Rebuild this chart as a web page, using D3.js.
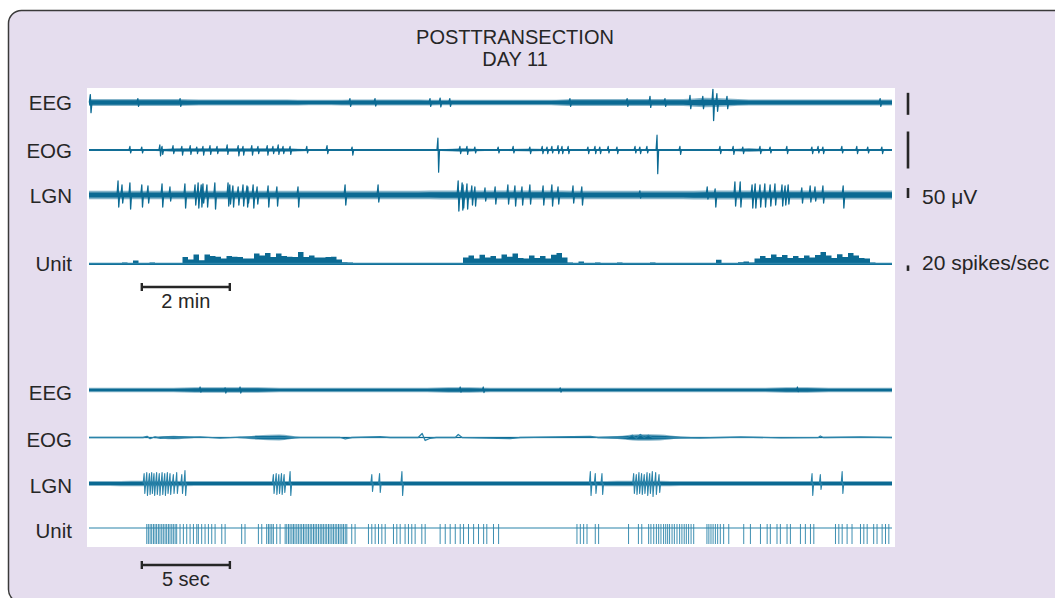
<!DOCTYPE html>
<html>
<head>
<meta charset="utf-8">
<script src="https://cdn.jsdelivr.net/npm/d3@7"></script>
<style>
  body { margin: 0; background: #fff; }
  svg { display: block; font-family: "Liberation Sans", Arial, sans-serif; }
</style>
</head>
<body>
<svg id="chart" width="1055" height="598"></svg>
<script>
// ---------- record lengths ----------
const topMinutes = 18.25;   // upper panel, slow sweep
const botSeconds = 45.6;    // lower panel, fast sweep
const bandStepTop = 0.5;    // min per envelope bin
const bandStepBot = 1.2;    // sec per envelope bin
const rateStep = 0.125;     // min per firing-rate bin

// channel gains, px per unit (taken from the calibration bars)
const gainEEG = 0.44, gainEOG = 0.74, gainLGN = 0.2, gainUnit = 0.275;

// ---------- upper panel data ----------
// noise envelope, half-width in µV, one value per 0.5 min
const eegTopBand = [8,8,8,8,8,7,7,7,7,7,6,6,7,7,7,7,6,6,6,6,6,6,8,8,8,8,8,8,11,9,7,7,7,7,7,7,7];
const eogTopBand = [1.4,1.4,1.4,1.4,2.5,2.5,2.5,2.5,2.5,2.5,1.4,1.4,1.4,1.4,1.4,1.4,1.4,2.5,1.4,1.4,2,1.4,1.4,1.4,1.4,1.4,1.4,1.4,1.4,1.4,2.5,1.4,1.4,1.4,1.4,1.4,1.4];
const lgnTopBand = [21,21,21,21,21,21,21,21,21,21,21,21,21,21,21,21,22,22,22,22,22,22,21,21,21,21,21,21,23,23,23,23,23,23,23,23,23];

// transients: [time (min), up µV, down µV]
const eegTopEvents = [[0.03,18,23],[1.11,9,9],[2.07,9,9],[5.93,9,9],[6.5,9,8],[7.75,9,9],[7.98,10,10],[8.2,9,9],
  [10.93,9,9],[12.23,9,9],[12.75,14,11],[13.09,9,9],[13.66,16,14],[13.95,14,14],[14.18,30,41],[14.27,20,20],[14.5,14,14],[17.98,9,9]];
const eogTopEvents = [[0.93,5,4],[1.2,4,4],[1.61,7,8],[1.66,5,6],[1.91,6,5],[2.11,5,7],[2.30,6,6],[2.45,4,5],[2.59,5,7],
  [2.75,6,6],[2.91,5,5],[3.14,7,6],[3.39,6,8],[3.50,5,7],[3.70,6,7],[3.84,5,5],[4.05,6,7],[4.18,5,5],[4.30,7,6],
  [4.41,5,5],[4.57,5,6],[4.95,5,4],[5.41,6,5],[5.98,4,7],[7.93,16,30],[8.43,5,5],[8.59,5,6],[8.77,4,4],[9.30,4,4],
  [9.64,5,4],[10.02,4,5],[10.30,5,5],[10.41,4,5],[10.52,5,4],[10.66,6,5],[10.75,5,5],[10.89,5,5],[11.34,4,5],
  [11.50,5,5],[11.61,4,5],[11.80,5,4],[12.0,4,5],[12.41,5,4],[12.52,4,5],[12.68,5,4],[12.91,20,32],[13.43,5,6],
  [14.34,5,5],[14.64,5,6],[14.86,4,5],[15.25,5,5],[15.48,4,4],[15.86,5,5],[16.43,4,5],[16.57,5,4],[16.68,4,5],
  [17.11,5,4],[17.45,5,5],[17.70,4,4],[18.02,4,5]];
const lgnTopEvents = [[0.66,70,60],[0.75,50,40],[0.93,60,70],[1.20,50,60],[1.34,45,40],[1.66,55,60],[1.84,40,30],
  [2.18,55,65],[2.41,50,50],[2.48,60,65],[2.55,50,60],[2.59,55,40],[2.68,50,60],[2.86,60,70],[3.16,60,55],[3.20,50,45],
  [3.27,45,60],[3.39,40,50],[3.50,50,55],[3.59,45,60],[3.61,40,40],[3.73,50,65],[3.82,40,45],[4.07,45,60],[4.27,40,55],
  [4.75,40,60],[5.82,50,50],[6.57,50,35],[8.39,70,80],[8.48,60,75],[8.50,50,65],[8.59,55,70],[8.70,45,50],[8.77,40,55],
  [9.0,35,30],[9.23,40,45],[9.52,50,45],[9.68,45,55],[9.84,40,50],[10.02,50,45],[10.32,45,50],[10.52,50,55],[10.66,40,45],
  [11.0,45,40],[11.20,40,50],[12.52,20,15],[14.05,40,20],[14.23,30,60],[14.68,65,55],[14.80,65,60],[15.07,50,65],
  [15.14,55,65],[15.25,50,60],[15.36,55,60],[15.48,50,55],[15.59,55,50],[15.75,50,55],[15.82,45,50],[15.89,50,45],
  [16.20,35,40],[16.39,45,35],[16.5,40,30],[16.68,45,40],[17.14,45,65]];

// unit firing rate, spikes/sec, one value per 0.125 min
const unitTopRate = [0,0,0,0,0,0,4,0,11,0,0,4,0,0,0,0,0,
  24,15,33,12,33,27,25,18,27,25,24,18,18,36,29,38,24,36,27,25,24,42,24,29,22,22,24,25,15,5,4,
  0,0,0,0,0,0,0,0,0,0,0,0,0,0,0,0,0,0,0,0,
  22,29,18,32,22,27,18,33,25,36,20,18,29,20,27,18,32,38,22,4,
  0,7,0,0,4,0,0,0,4,0,0,0,0,0,4,0,0,0,0,0,0,0,0,0,0,0,14,0,0,0,5,7,4,
  18,27,20,33,24,31,20,27,20,29,22,31,42,29,20,34,24,38,29,20,18,4,
  0,0,0,0];

// ---------- lower panel data ----------
const eegBotBand = [5,5,5,5,5,6,6,6,6,5,5,5,5,5,5,5,5,6,6,5,5,5,5,5,5,5,5,5,5,5,5,5,5,6,6,5,5,5];
const eogBotBand = [1,1,1,1,2.5,1,1,1,3,4,1,1,1,1,1,1,1,1,1,1,1,1,1,1,1,2,4.5,4,1.5,1,1,1,1,1,1,1,1,1];
const lgnBotBand = [12,12,14,14,14,12,12,12,13,13,12,12,12,12,12,12,12,12,12,12,12,12,12,12,12,14,14,14,12,12,12,12,12,12,12,12,12,12];

const eegBotEvents = [[6.31,7,5],[7.73,5,7],[8.58,7,7],[21.08,7,5],[22.39,7,6],[26.76,5,5],[40.23,7,4]];
// slow eye-movement waveform: [time (s), µV]
const eogBotWave = [[0,0],[3.07,0],[3.30,1.5],[3.47,-1.5],[3.75,1],[4.03,-1],[4.43,0],[6.31,0.8],[7.44,-0.8],[8.58,0.5],
  [9.15,0],[14.26,0],[14.55,-2],[14.94,0],[16.53,1],[17.10,0],[18.69,0],[18.92,5.5],[19.09,-4],[19.38,-1],[19.72,0],
  [20.80,0],[20.97,4],[21.19,0],[23.92,-1.5],[24.49,0],[28.47,1.5],[28.92,0],[30.57,0],[30.85,3],[31.08,-1],[31.31,4],
  [31.53,0],[31.76,3],[31.99,0],[34.7,-0.7],[37.0,0.7],[39.3,-0.5],[41.42,0],[41.53,2],[41.70,0],[43.8,0.7],[45.6,0]];
const lgnBotEvents = [[3.13,50,50],[3.28,55,60],[3.43,50,55],[3.56,55,50],[3.69,50,60],[3.84,55,55],[3.99,50,60],
  [4.15,55,55],[4.30,50,60],[4.45,55,50],[4.60,50,55],[4.79,45,50],[4.98,55,50],[5.27,45,50],[5.45,65,60],
  [10.47,45,50],[10.63,50,55],[10.78,45,50],[10.93,50,55],[11.08,45,45],[11.42,60,60],
  [16.06,45,40],[16.50,50,45],[17.77,60,60],[28.47,60,60],[28.75,50,50],[29.13,50,55],
  [30.93,50,50],[31.08,45,55],[31.23,55,50],[31.38,50,55],[31.53,45,50],[31.69,55,60],[31.84,50,50],[31.99,60,65],
  [32.18,55,55],[32.37,45,45],[41.06,50,60],[41.53,45,30],[42.77,60,50]];
// single-unit spike times (s)
const unitBotSpikes = [3.28,3.37,3.47,3.56,3.66,3.75,3.84,3.94,4.03,4.13,4.22,4.32,4.41,4.51,4.60,4.70,4.79,4.89,4.98,
  5.17,5.36,5.55,5.74,5.93,6.12,6.21,6.40,6.59,6.78,6.97,7.16,7.54,7.73,8.67,8.86,9.62,9.81,10.09,10.19,10.28,10.38,
  10.47,10.66,10.85,11.14,11.23,11.33,11.42,11.52,11.61,11.70,11.80,11.89,11.99,12.08,12.18,12.27,12.37,12.46,12.56,
  12.65,12.75,12.84,12.93,13.03,13.13,13.22,13.31,13.41,13.50,13.60,13.69,13.79,13.88,13.98,14.07,14.17,14.26,14.36,
  14.45,14.55,14.64,14.92,15.11,15.87,16.06,16.25,16.44,16.63,16.82,17.29,17.48,17.67,17.95,18.14,18.33,18.52,18.90,
  19.09,19.94,20.23,20.51,20.80,21.08,21.27,21.55,21.84,22.12,22.41,22.59,22.97,23.26,
  27.71,27.90,28.09,28.28,28.75,28.94,30.64,31.20,31.39,31.78,31.91,32.07,32.22,32.35,32.48,32.63,32.75,32.86,32.97,
  33.11,33.24,33.39,33.54,33.67,33.80,33.92,34.05,34.19,34.34,35.09,35.20,35.32,35.44,35.57,35.70,35.85,36.04,36.33,
  37.18,37.56,38.13,38.51,38.69,39.07,39.26,39.64,39.83,40.40,40.68,40.97,41.16,42.39,42.58,42.77,43.05,43.33,43.81,
  44.0,44.19,44.56,44.75,45.04,45.23,45.42];

// ---------- labels ----------
const titleLines = ["POSTTRANSECTION", "DAY 11"];
const channelNames = ["EEG", "EOG", "LGN", "Unit"];

// ---------- drawing ----------
const traceColor = "#0b6a93";
const thinColor = "#2b84aa";
const inkColor = "#262626";

const svg = d3.select("#chart");

svg.append("rect")
  .attr("x", 8.5).attr("y", 10.5)
  .attr("width", 1080).attr("height", 592).attr("rx", 13)
  .attr("fill", "#e5ddee").attr("stroke", "#3a3a3a").attr("stroke-width", 1.5);

svg.append("rect")
  .attr("x", 87).attr("y", 88).attr("width", 808).attr("height", 459)
  .attr("fill", "#fff");

const xTop = d3.scaleLinear().domain([0, topMinutes]).range([89, 892]);
const xBot = d3.scaleLinear().domain([0, botSeconds]).range([89, 892]);

// vertical scale for one channel, centred on its trace
function chanScale(center, gain) {
  return d3.scaleLinear().domain([-100, 100]).range([center + 100 * gain, center - 100 * gain]);
}

const yTop = {
  EEG: chanScale(102.5, gainEEG),
  EOG: chanScale(150, gainEOG),
  LGN: chanScale(195, gainLGN),
  Unit: chanScale(263.5, gainUnit)
};
const yBot = {
  EEG: chanScale(390, gainEEG),
  EOG: chanScale(437.5, gainEOG),
  LGN: chanScale(483.5, gainLGN),
  Unit: chanScale(528, 1)
};

// noise envelope: pale outer fringe plus a dense core
function drawBand(x, y, values, step, end, color) {
  const pts = values.map((v, i) => [i * step, v]);
  pts.push([end, values[values.length - 1]]);
  [[1, 0.5], [0.62, 1]].forEach(([k, op]) => {
    svg.append("path").datum(pts)
      .attr("d", d3.area().curve(d3.curveMonotoneX)
        .x(d => x(d[0])).y0(d => y(-d[1] * k)).y1(d => y(d[1] * k)))
      .attr("fill", color).attr("fill-opacity", op);
  });
}

function drawEvents(x, y, events, color, w) {
  svg.append("g").selectAll("path").data(events).join("path")
    .attr("d", d => {
      const cx = x(d[0]);
      return `M${cx - 1},${y(0)}L${cx},${y(d[1])}L${cx + 0.7},${y(-d[2])}L${cx + 1.6},${y(0)}`;
    })
    .attr("fill", "none").attr("stroke", color)
    .attr("stroke-width", w).attr("stroke-linejoin", "round");
}

// upper panel traces
drawBand(xTop, yTop.EEG, eegTopBand, bandStepTop, topMinutes, traceColor);
drawEvents(xTop, yTop.EEG, eegTopEvents, traceColor, 1.3);

svg.append("line")
  .attr("x1", xTop(0)).attr("x2", xTop(topMinutes))
  .attr("y1", yTop.EOG(0)).attr("y2", yTop.EOG(0))
  .attr("stroke", traceColor).attr("stroke-width", 1.5);
drawBand(xTop, yTop.EOG, eogTopBand, bandStepTop, topMinutes, traceColor);
drawEvents(xTop, yTop.EOG, eogTopEvents, traceColor, 1.2);

drawBand(xTop, yTop.LGN, lgnTopBand, bandStepTop, topMinutes, traceColor);
drawEvents(xTop, yTop.LGN, lgnTopEvents, traceColor, 1.3);

const rateArea = d3.area()
  .curve(d3.curveStepAfter)
  .x((d, i) => xTop(i * rateStep))
  .y0(yTop.Unit(-5))
  .y1(d => yTop.Unit(d));
svg.append("path").datum(unitTopRate)
  .attr("d", rateArea)
  .attr("fill", traceColor);
svg.append("line")
  .attr("x1", xTop(0)).attr("x2", xTop(topMinutes))
  .attr("y1", yTop.Unit(0)).attr("y2", yTop.Unit(0))
  .attr("stroke", thinColor).attr("stroke-width", 1.3);

// lower panel traces
drawBand(xBot, yBot.EEG, eegBotBand, bandStepBot, botSeconds, traceColor);
drawEvents(xBot, yBot.EEG, eegBotEvents, traceColor, 1.1);

drawBand(xBot, yBot.EOG, eogBotBand, bandStepBot, botSeconds, traceColor);
svg.append("path").datum(eogBotWave)
  .attr("d", d3.line().x(d => xBot(d[0])).y(d => yBot.EOG(d[1])))
  .attr("fill", "none").attr("stroke", thinColor).attr("stroke-width", 1.3)
  .attr("stroke-linejoin", "round");

drawBand(xBot, yBot.LGN, lgnBotBand, bandStepBot, botSeconds, traceColor);
drawEvents(xBot, yBot.LGN, lgnBotEvents, thinColor, 1.1);

svg.append("line")
  .attr("x1", xBot(0)).attr("x2", xBot(botSeconds))
  .attr("y1", yBot.Unit(0)).attr("y2", yBot.Unit(0))
  .attr("stroke", thinColor).attr("stroke-width", 1.2);
svg.append("g").selectAll("line").data(unitBotSpikes).join("line")
  .attr("x1", d => xBot(d)).attr("x2", d => xBot(d))
  .attr("y1", yBot.Unit(4)).attr("y2", yBot.Unit(-16))
  .attr("stroke", thinColor).attr("stroke-width", 1).attr("opacity", 0.9);

// title
svg.append("g").selectAll("text").data(titleLines).join("text")
  .attr("x", 515).attr("y", (d, i) => 44 + i * 22)
  .attr("text-anchor", "middle")
  .attr("font-size", 20).attr("fill", inkColor)
  .text(d => d);

// channel names
const labelRows = [
  ...channelNames.map(n => ({ name: n, y: yTop[n](0) + 7.5 })),
  ...channelNames.map(n => ({ name: n, y: yBot[n](0) + 9.5 }))
];
svg.append("g").selectAll("text").data(labelRows).join("text")
  .attr("x", 72).attr("y", d => d.y)
  .attr("text-anchor", "end")
  .attr("font-size", 20.5).attr("fill", inkColor)
  .text(d => d.name);

// calibration bars (50 µV for the field channels, 20 spikes/sec for the unit)
const calBars = [
  { y: yTop.EEG, from: -28, to: 22, label: null, dy: 0 },
  { y: yTop.EOG, from: -25, to: 25, label: null, dy: 0 },
  { y: yTop.LGN, from: -15, to: 35, label: "50 μV", dy: 6 },
  { y: yTop.Unit, from: -27, to: -7, label: "20 spikes/sec", dy: -1 }
];
calBars.forEach(b => {
  svg.append("line")
    .attr("x1", 908).attr("x2", 908)
    .attr("y1", b.y(b.from)).attr("y2", b.y(b.to))
    .attr("stroke", inkColor).attr("stroke-width", 2.6);
  if (b.label) {
    svg.append("text")
      .attr("x", 922).attr("y", b.y(b.from) + b.dy)
      .attr("font-size", 21).attr("fill", inkColor)
      .text(b.label);
  }
});

// time scale bars
function timeBar(x, t0, t1, y, label) {
  const g = svg.append("g").attr("stroke", inkColor).attr("stroke-width", 2.4);
  g.append("line").attr("x1", x(t0)).attr("x2", x(t1)).attr("y1", y).attr("y2", y);
  g.append("line").attr("x1", x(t0)).attr("x2", x(t0)).attr("y1", y - 4).attr("y2", y + 4);
  g.append("line").attr("x1", x(t1)).attr("x2", x(t1)).attr("y1", y - 4).attr("y2", y + 4);
  svg.append("text")
    .attr("x", (x(t0) + x(t1)) / 2).attr("y", y + 21)
    .attr("text-anchor", "middle")
    .attr("font-size", 20).attr("fill", inkColor)
    .text(label);
}
timeBar(xTop, 1.2, 3.2, 287, "2 min");
timeBar(xBot, 3.0, 8.0, 565, "5 sec");
</script>
</body>
</html>
